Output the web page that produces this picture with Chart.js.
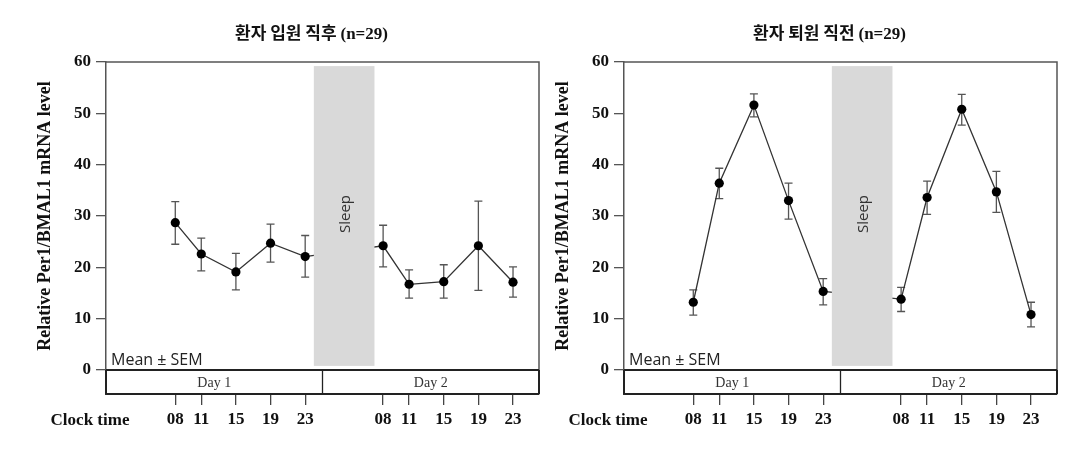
<!DOCTYPE html>
<html lang="ko">
<head>
<meta charset="utf-8">
<title>Per1/BMAL1 mRNA level</title>
<script src="https://cdn.jsdelivr.net/npm/chart.js@4"></script>
<style>
  html, body { margin: 0; padding: 0; background: #fff; }
  #wrap { position: relative; width: 1080px; height: 461px; overflow: hidden; }
  #wrap canvas { position: absolute; top: 0; }
  #chart-admit { left: 0; }
  #chart-discharge { left: 518px; }
</style>
</head>
<body>
<div id="wrap">
  <canvas id="chart-admit" width="540" height="461"></canvas>
  <canvas id="chart-discharge" width="540" height="461"></canvas>
</div>
<script>
// sampling hours on a continuous two-day clock (day 2 = +24h)
const clockHours = [8, 11, 15, 19, 23, 32, 35, 39, 43, 47];
const clockLabels = ['08', '11', '15', '19', '23', '08', '11', '15', '19', '23'];
const yTickValues = [0, 10, 20, 30, 40, 50, 60];
const dayLabels = ['Day 1', 'Day 2'];

// right after admission
const admitMean  = [28.7, 22.6, 19.1, 24.7, 22.1, 24.2, 16.7, 17.2, 24.2, 17.1];
const admitUpper = [32.8, 25.7, 22.7, 28.4, 26.2, 28.2, 19.5, 20.5, 32.9, 20.1];
const admitLower = [24.5, 19.3, 15.6, 21.0, 18.1, 20.1, 14.0, 14.0, 15.5, 14.2];

// right before discharge
const dischargeMean  = [13.2, 36.4, 51.6, 33.0, 15.3, 13.8, 33.6, 50.8, 34.7, 10.8];
const dischargeUpper = [15.6, 39.3, 53.8, 36.4, 17.8, 16.1, 36.8, 53.7, 38.7, 13.2];
const dischargeLower = [10.7, 33.4, 49.3, 29.4, 12.7, 11.4, 30.3, 47.7, 30.7, 8.4];

const sleepHours = [24, 31];
const sleepLevels = [0.8, 59.2];
const dayBreakHour = 25;
const xRange = [0, 50];
const yRange = [-4.675, 60];

const SERIF = '"Liberation Serif", "Times New Roman", serif';
const SANS = '"Open Sans", "Noto Sans", sans-serif';
const KR = '"Noto Sans CJK KR", sans-serif';

const panels = [
    { canvasId: 'chart-admit', title: '환자 입원 직후', note: '(n=29)', mean: admitMean, upper: admitUpper, lower: admitLower },
    { canvasId: 'chart-discharge', title: '환자 퇴원 직전', note: '(n=29)', mean: dischargeMean, upper: dischargeUpper, lower: dischargeLower }
];

// ======================
// Decorations: error bars, sleep band, frame, labels
// ======================
function makeDecorPlugin(panel) {
    return {
        id: 'panelDecor',
        beforeDatasetsDraw(chart) {
            const { ctx, scales: { x, y } } = chart;
            ctx.save();
            ctx.strokeStyle = '#555';
            ctx.lineWidth = 1.3;
            clockHours.forEach((h, i) => {
                const px = x.getPixelForValue(h);
                const top = y.getPixelForValue(panel.upper[i]);
                const bot = y.getPixelForValue(panel.lower[i]);
                ctx.beginPath();
                ctx.moveTo(px, top); ctx.lineTo(px, bot);
                ctx.moveTo(px - 4, top); ctx.lineTo(px + 4, top);
                ctx.moveTo(px - 4, bot); ctx.lineTo(px + 4, bot);
                ctx.stroke();
            });
            ctx.restore();
        },
        afterDatasetsDraw(chart) {
            const { ctx, chartArea: area, scales: { x, y } } = chart;
            ctx.save();

            // sleep band covers the overnight part of the line
            const sx0 = x.getPixelForValue(sleepHours[0]);
            const sx1 = x.getPixelForValue(sleepHours[1]);
            const sy0 = y.getPixelForValue(sleepLevels[1]);
            const sy1 = y.getPixelForValue(sleepLevels[0]);
            ctx.fillStyle = '#d9d9d9';
            ctx.fillRect(sx0, sy0, sx1 - sx0, sy1 - sy0);

            ctx.save();
            ctx.translate((sx0 + sx1) / 2 + 2, (sy0 + sy1) / 2 - 2);
            ctx.rotate(-Math.PI / 2);
            ctx.fillStyle = '#333';
            ctx.font = '15px ' + SANS;
            ctx.textAlign = 'center';
            ctx.textBaseline = 'middle';
            ctx.fillText('Sleep', 0, 0);
            ctx.restore();

            // top and right frame
            const zeroY = y.getPixelForValue(0);
            ctx.strokeStyle = '#555';
            ctx.lineWidth = 1.5;
            ctx.beginPath();
            ctx.moveTo(area.left, area.top);
            ctx.lineTo(area.right, area.top);
            ctx.lineTo(area.right, zeroY);
            ctx.stroke();

            // zero line and day strip
            const breakX = x.getPixelForValue(dayBreakHour);
            ctx.strokeStyle = '#222';
            ctx.lineWidth = 2;
            ctx.beginPath();
            ctx.moveTo(area.left, zeroY); ctx.lineTo(area.right, zeroY);
            ctx.moveTo(area.right, zeroY); ctx.lineTo(area.right, area.bottom);
            ctx.moveTo(area.left, zeroY); ctx.lineTo(area.left, area.bottom);
            ctx.stroke();
            ctx.lineWidth = 1.3;
            ctx.beginPath();
            ctx.moveTo(breakX, zeroY); ctx.lineTo(breakX, area.bottom);
            ctx.stroke();

            ctx.fillStyle = '#333';
            ctx.font = '14px ' + SERIF;
            ctx.textAlign = 'center';
            ctx.textBaseline = 'middle';
            const stripY = (zeroY + area.bottom) / 2 + 1;
            ctx.fillText(dayLabels[0], (area.left + breakX) / 2, stripY);
            ctx.fillText(dayLabels[1], (breakX + area.right) / 2, stripY);

            // Mean ± SEM note
            ctx.fillStyle = '#222';
            ctx.font = '16px ' + SANS;
            ctx.textAlign = 'left';
            ctx.textBaseline = 'alphabetic';
            ctx.fillText('Mean \u00B1 SEM', area.left + 5, zeroY - 5);

            ctx.restore();
        },
        afterDraw(chart) {
            const { ctx, chartArea: area } = chart;
            ctx.save();
            ctx.fillStyle = '#111';
            ctx.textBaseline = 'middle';

            // panel title: Korean in sans, (n=29) in serif
            ctx.font = 'bold 17px ' + KR;
            const w1 = ctx.measureText(panel.title + ' ').width;
            ctx.font = 'bold 17px ' + SERIF;
            const w2 = ctx.measureText(panel.note).width;
            const startX = (area.left + area.right) / 2 - 11 - (w1 + w2) / 2;
            ctx.textAlign = 'left';
            ctx.font = 'bold 17px ' + KR;
            ctx.fillText(panel.title + ' ', startX, 33);
            ctx.font = 'bold 17px ' + SERIF;
            ctx.fillText(panel.note, startX + w1, 35);

            // y axis title
            ctx.save();
            ctx.translate(45, 216);
            ctx.rotate(-Math.PI / 2);
            ctx.textAlign = 'center';
            ctx.font = 'bold 18px ' + SERIF;
            ctx.fillText('Relative Per1/BMAL1 mRNA level', 0, 0);
            ctx.restore();

            // x row caption
            ctx.textAlign = 'center';
            ctx.font = 'bold 17px ' + SERIF;
            ctx.fillText('Clock time', 90, 421);
            ctx.restore();
        }
    };
}

// ======================
// Charts
// ======================
function initPanel(panel) {
    const canvas = document.getElementById(panel.canvasId);
    new Chart(canvas, {
        type: 'line',
        data: {
            datasets: [{
                data: clockHours.map((h, i) => ({ x: h, y: panel.mean[i] })),
                borderColor: '#333',
                borderWidth: 1.3,
                pointRadius: 4.6,
                pointBackgroundColor: '#000',
                pointBorderColor: '#000',
                pointBorderWidth: 0,
                tension: 0,
                fill: false
            }]
        },
        options: {
            responsive: false,
            animation: false,
            devicePixelRatio: 1,
            layout: { autoPadding: false, padding: { top: 62, right: 1, bottom: 27, left: 0 } },
            plugins: {
                legend: { display: false },
                tooltip: { enabled: false },
                title: { display: false }
            },
            scales: {
                x: {
                    type: 'linear',
                    min: xRange[0],
                    max: xRange[1],
                    afterBuildTicks: s => { s.ticks = clockHours.map(v => ({ value: v })); },
                    afterFit: s => { s.height = 40; s.paddingLeft = 0; s.paddingRight = 0; },
                    grid: { drawOnChartArea: false, drawTicks: true, tickLength: 11, color: '#444', lineWidth: 1.3 },
                    border: { display: true, color: '#222', width: 2 },
                    ticks: {
                        autoSkip: false,
                        maxRotation: 0,
                        padding: 4,
                        color: '#111',
                        font: { family: SERIF, size: 17, weight: 'bold' },
                        callback: (v, i) => clockLabels[i]
                    }
                },
                y: {
                    min: yRange[0],
                    max: yRange[1],
                    afterBuildTicks: s => { s.ticks = yTickValues.map(v => ({ value: v })); },
                    afterFit: s => { s.width = 106; },
                    grid: { drawOnChartArea: false, drawTicks: true, tickLength: 10, color: '#555', lineWidth: 1.3 },
                    border: { display: true, color: '#555', width: 1.5 },
                    ticks: {
                        padding: 5,
                        color: '#111',
                        font: { family: SERIF, size: 17, weight: 'bold' },
                        callback: v => v
                    }
                }
            }
        },
        plugins: [makeDecorPlugin(panel)]
    });
}

function initApp() {
    panels.forEach(initPanel);
}

document.addEventListener('DOMContentLoaded', initApp);
</script>
</body>
</html>
